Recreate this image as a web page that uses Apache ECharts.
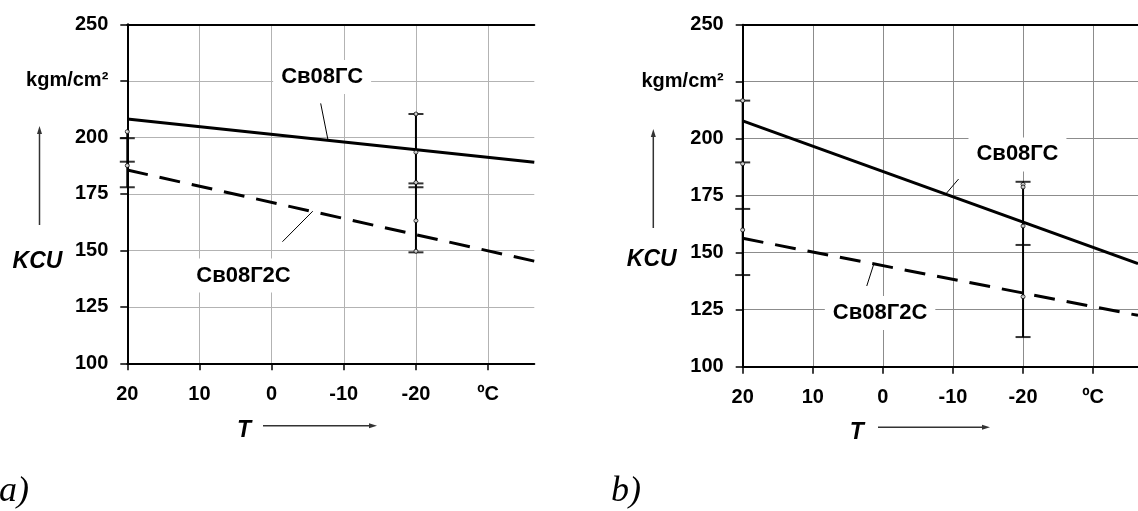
<!DOCTYPE html>
<html>
<head>
<meta charset="utf-8">
<title>KCU</title>
<script src="https://cdn.jsdelivr.net/npm/echarts@6/dist/echarts.min.js"></script>
<style>
html, body { margin: 0; padding: 0; background: #fff; }
#chart { width: 1138px; height: 511px; }
</style>
</head>
<body>
<div id="chart"></div>
<script>
// shared axes
var xTicks = [20, 10, 0, -10, -20, -30];
var xMin = -36.4, xMax = 20;
var yMin = 100, yMax = 250, yStep = 25;
var unitLabel = 'kgm/cm²';
var degLabel = 'ºC';

// a) line ends [T, KCU]
var aGS = [[20, 208.1], [-36.4, 189.0]];
var aG2S = [[20, 185.5], [-36.4, 145.2]];
// scatter bars [T, low, high]
var aBars = [[20, 177.9, 202.5], [-20, 149.1, 210.3]];
var aCaps = [[20, 199.6], [20, 189.2], [20, 177.9], [-20, 210.3], [-20, 179.6], [-20, 177.9], [-20, 149.1]];
var aDots = [[20, 202.5], [20, 187.5], [-20, 210.3], [-20, 193.4], [-20, 180.0], [-20, 163.1], [-20, 149.6]];
var aLeaders = [[[-6.8, 215.0], [-7.8, 199.0]], [[-1.5, 153.8], [-5.7, 167.3]]];
var aNames = [[-7.0, 226.7, 'Св08ГС'], [3.9, 138.8, 'Св08Г2С']];

// b)
var bGS = [[20, 207.8], [-36.4, 145.2]];
var bG2S = [[20, 156.3], [-36.4, 122.5]];
var bBars = [[20, 140.2, 216.7], [-20, 113.0, 181.1]];
var bCaps = [[20, 216.7], [20, 189.6], [20, 169.2], [20, 140.2], [-20, 181.1], [-20, 153.4], [-20, 113.0]];
var bDots = [[20, 216.7], [20, 189.0], [20, 160.0], [-20, 180.0], [-20, 178.8], [-20, 161.7], [-20, 130.7]];
var bLeaders = [[[-10.8, 182.3], [-9.05, 176.0]], [[2.3, 135.4], [1.3, 145.0]]];
var bNames = [[-19.2, 193.1, 'Св08ГС'], [0.4, 123.6, 'Св08Г2С']];

var FONT = '"Liberation Sans", Arial, sans-serif';

var chart = echarts.init(document.getElementById('chart'));

function bottomAxis(i) {
    return {
        type: 'value', gridIndex: i, position: 'bottom', inverse: true,
        min: xMin, max: xMax,
        axisLine: { show: true, onZero: false, lineStyle: { color: '#000', width: 2 } },
        axisTick: { show: true, length: 7, customValues: xTicks, lineStyle: { color: '#000', width: 1.5 } },
        axisLabel: {
            customValues: xTicks, margin: 21, color: '#000', fontSize: 20, fontWeight: 'bold', fontFamily: FONT,
            formatter: function (v) { return v === -30 ? degLabel : String(v); }
        },
        splitLine: { show: true, lineStyle: { color: i === 0 ? '#b3b3b3' : '#8c8c8c', width: 1 } }
    };
}
function topAxis(i) {
    return {
        type: 'value', gridIndex: i, position: 'top', inverse: true,
        min: xMin, max: xMax,
        axisLine: { show: true, onZero: false, lineStyle: { color: '#000', width: 2 } },
        axisTick: { show: false }, axisLabel: { show: false }, splitLine: { show: false }
    };
}
function leftAxis(i) {
    return {
        type: 'value', gridIndex: i, min: yMin, max: yMax, interval: yStep,
        axisLine: { show: true, onZero: false, lineStyle: { color: '#000', width: 2 } },
        axisTick: { show: true, length: 7, lineStyle: { color: '#000', width: 1.5 } },
        axisLabel: {
            margin: 19, color: '#000', fontSize: 20, fontWeight: 'bold', fontFamily: FONT,
            formatter: function (v) { return v === 225 ? unitLabel : String(v); }
        },
        splitLine: { show: true, lineStyle: { color: i === 0 ? '#b3b3b3' : '#8c8c8c', width: 1 } }
    };
}

function barRender(params, api) {
    var p1 = api.coord([api.value(0), api.value(1)]);
    var p2 = api.coord([api.value(0), api.value(2)]);
    return {
        type: 'line',
        shape: { x1: p1[0], y1: p1[1], x2: p2[0], y2: p2[1] },
        style: { stroke: '#000', lineWidth: 2 }
    };
}

function panel(i, gs, g2s, bars, caps, dots, leaders, names) {
    var s = [];
    s.push({
        type: 'line', xAxisIndex: i, yAxisIndex: i, data: gs, symbol: 'none', z: 4,
        lineStyle: { color: '#000', width: 3 }
    });
    s.push({
        type: 'line', xAxisIndex: i, yAxisIndex: i, data: g2s, symbol: 'none', z: 4,
        lineStyle: { color: '#000', width: 3, type: [21, 12] }
    });
    leaders.forEach(function (l) {
        s.push({
            type: 'line', xAxisIndex: i, yAxisIndex: i, data: l, symbol: 'none', z: 4,
            lineStyle: { color: '#000', width: 1 }
        });
    });
    s.push({
        type: 'custom', xAxisIndex: i, yAxisIndex: i, data: bars, renderItem: barRender, z: 5
    });
    s.push({
        type: 'scatter', xAxisIndex: i, yAxisIndex: i, data: caps, symbol: 'rect', symbolSize: [15, 2], z: 6,
        itemStyle: { color: '#000' }
    });
    s.push({
        type: 'scatter', xAxisIndex: i, yAxisIndex: i, data: dots, symbol: 'circle', symbolSize: 4, z: 7,
        itemStyle: { color: '#fff', borderColor: '#000', borderWidth: 1 }
    });
    s.push({
        type: 'scatter', xAxisIndex: i, yAxisIndex: i, symbolSize: 0, z: 3,
        itemStyle: { color: '#000' },
        data: names.map(function (n) { return { value: [n[0], n[1]], name: n[2] }; }),
        label: {
            show: true, position: 'inside', formatter: '{b}', color: '#000', opacity: 1,
            textBorderWidth: 0, fontSize: 22, fontWeight: 'bold', fontFamily: FONT,
            backgroundColor: '#fff', padding: [6, 8]
        }
    });
    return s;
}

function arrowUp(x, y0, y1) {
    return [
        { type: 'line', shape: { x1: x, y1: y0, x2: x, y2: y1 + 6 }, style: { stroke: '#333', lineWidth: 1.5 } },
        { type: 'polygon', shape: { points: [[x, y1], [x - 2.5, y1 + 8], [x + 2.5, y1 + 8]] }, style: { fill: '#333' } }
    ];
}
function arrowRight(y, x0, x1) {
    return [
        { type: 'line', shape: { x1: x0, y1: y, x2: x1 - 6, y2: y }, style: { stroke: '#333', lineWidth: 1.5 } },
        { type: 'polygon', shape: { points: [[x1, y], [x1 - 8, y - 2.5], [x1 - 8, y + 2.5]] }, style: { fill: '#333' } }
    ];
}
function txt(x, y, t, size, style, family, align) {
    return {
        type: 'text', x: x, y: y,
        style: {
            text: t, fill: '#000', fontSize: size, fontWeight: style === 'serif' ? 'normal' : 'bold',
            fontStyle: 'italic', fontFamily: family || FONT, align: align || 'center', verticalAlign: 'middle'
        }
    };
}

var option = {
    animation: false,
    backgroundColor: '#fff',
    grid: [
        { left: 127.3, top: 24.3, width: 407, height: 339 },
        { left: 742.7, top: 24.7, width: 404, height: 342 }
    ],
    xAxis: [bottomAxis(0), bottomAxis(1), topAxis(0), topAxis(1)],
    yAxis: [leftAxis(0), leftAxis(1)],
    series: [].concat(
        panel(0, aGS, aG2S, aBars, aCaps, aDots, aLeaders, aNames),
        panel(1, bGS, bG2S, bBars, bCaps, bDots, bLeaders, bNames)
    ),
    graphic: [].concat(
        arrowUp(39.5, 225, 126),
        arrowUp(653.3, 228, 129),
        arrowRight(425.7, 263, 377),
        arrowRight(427.3, 878, 990),
        [
            txt(37.5, 262, 'KCU', 23),
            txt(651.7, 260, 'KCU', 23),
            txt(244, 431, 'T', 23),
            txt(856.7, 433, 'T', 23),
            txt(29, 492, 'a)', 36, 'serif', '"Liberation Serif", "Times New Roman", serif', 'right'),
            txt(641, 492, 'b)', 36, 'serif', '"Liberation Serif", "Times New Roman", serif', 'right')
        ]
    )
};

chart.setOption(option);
</script>
</body>
</html>
